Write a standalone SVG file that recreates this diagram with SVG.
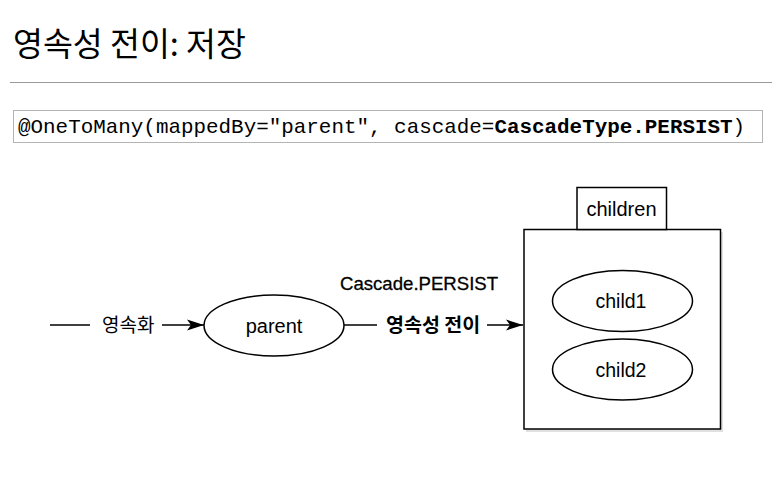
<svg xmlns="http://www.w3.org/2000/svg" width="772" height="480" viewBox="0 0 772 480">
<defs>
<style>
.t{font-family:"Liberation Sans","Noto Sans CJK KR",sans-serif;fill:#000}
.k{font-family:"Noto Sans CJK KR","Noto Sans",sans-serif;fill:#000}
.ln{stroke:#000;stroke-width:1.5;fill:none}
</style>
<marker id="ah" viewBox="0 0 17 12" refX="17" refY="6" markerWidth="17" markerHeight="12" markerUnits="userSpaceOnUse" orient="auto">
<path d="M0,0.5 L17,6 L0,11.5 L4,6 Z" fill="#000"/>
</marker>
</defs>
<rect width="772" height="480" fill="#fff"/>
<text class="k" x="13" y="56" font-size="32.5">영속성 전이: 저장</text>
<line x1="10" y1="82.5" x2="772" y2="82.5" stroke="#999" stroke-width="1.2"/>
<rect x="13.5" y="110.5" width="749" height="32" fill="#fff" stroke="#b4b4b4" stroke-width="1"/>
<text x="18" y="133" font-family="'Liberation Mono','Courier New',monospace" font-size="20.9" fill="#000">@OneToMany(mappedBy="parent", cascade=<tspan font-weight="bold">CascadeType.PERSIST</tspan>)</text>
<g id="connectors">
<line class="ln" x1="50" y1="325" x2="90" y2="325"/>
<text class="k" x="102" y="331.5" font-size="19">영속화</text>
<line class="ln" x1="162" y1="325" x2="204" y2="325" marker-end="url(#ah)"/>
<line class="ln" x1="344" y1="325" x2="377" y2="325"/>
<text class="k" x="386" y="332" font-size="19.5" font-weight="bold">영속성 전이</text>
<line class="ln" x1="487" y1="325" x2="523" y2="325" marker-end="url(#ah)"/>
<text class="t" x="340" y="290" font-size="18.6" stroke="#000" stroke-width="0.3">Cascade.PERSIST</text>
</g>
<g id="parent">
<ellipse cx="274" cy="325.5" rx="70" ry="30.5" fill="#fff" stroke="#000" stroke-width="1.5"/>
<text class="t" x="274" y="332.5" font-size="20" text-anchor="middle">parent</text>
</g>
<g id="children">
<rect x="526" y="232" width="197" height="200" fill="#ccc" opacity="0.6"/>
<rect x="524" y="229.5" width="196.5" height="199.5" fill="#fff" stroke="#000" stroke-width="1.5"/>
<rect x="577" y="187.5" width="89.5" height="42" fill="#fff" stroke="#000" stroke-width="1.5"/>
<text class="t" x="621.5" y="215.5" font-size="20" text-anchor="middle">children</text>
</g>
<g id="child1">
<ellipse cx="622.5" cy="301" rx="70" ry="30.5" fill="#fff" stroke="#000" stroke-width="1.5"/>
<text class="t" x="621" y="308" font-size="19.5" text-anchor="middle">child1</text>
</g>
<g id="child2">
<ellipse cx="622.5" cy="369.5" rx="70" ry="30.5" fill="#fff" stroke="#000" stroke-width="1.5"/>
<text class="t" x="621" y="376.5" font-size="19.5" text-anchor="middle">child2</text>
</g>
</svg>
